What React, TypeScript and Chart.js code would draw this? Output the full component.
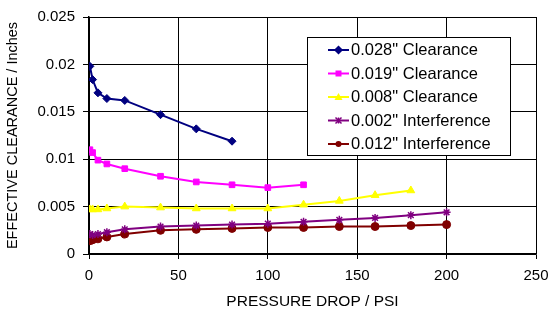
import React, { useEffect, useRef } from "react";
import { Chart, registerables } from "chart.js";

Chart.register(...registerables);

const pressure = [0.5, 2, 5, 10, 20, 40, 60, 80, 100, 120, 140, 160, 180, 200];

const clearance028 = [0.0198, 0.0184, 0.017, 0.0164, 0.0162, 0.0147, 0.0132, 0.0119];
const clearance019 = [0.011, 0.0107, 0.0099, 0.0095, 0.009, 0.0082, 0.0076, 0.0073, 0.007, 0.0073];
const clearance008 = [0.0047, 0.0047, 0.0047, 0.0048, 0.005, 0.0049, 0.0048, 0.0048, 0.0048, 0.0052, 0.0056, 0.0062, 0.0067];
const interference002 = [0.0021, 0.002, 0.0021, 0.0023, 0.0026, 0.0029, 0.003, 0.0031, 0.0032, 0.0034, 0.0036, 0.0038, 0.0041, 0.0044];
const interference012 = [0.0014, 0.0015, 0.0016, 0.0018, 0.0021, 0.0025, 0.0026, 0.0027, 0.0028, 0.0028, 0.0029, 0.0029, 0.003, 0.0031];

const seriesLabels = [
  '0.028" Clearance',
  '0.019" Clearance',
  '0.008" Clearance',
  '0.002" Interference',
  '0.012" Interference',
];
const seriesValues = [clearance028, clearance019, clearance008, interference002, interference012];
const seriesColors = ["#000080", "#FF00FF", "#FFFF00", "#800080", "#800000"];
const seriesMarkers = ["rectRot", "rect", "triangle", "star", "circle"];
const markerSizes = [4, 4, 4.5, 4, 4];

const xTicks = [0, 50, 100, 150, 200, 250];
const yTicks = [0, 0.005, 0.01, 0.015, 0.02, 0.025];

const FONT = "'Liberation Sans', Arial, sans-serif";

function drawMarker(ctx: CanvasRenderingContext2D, style: string, x: number, y: number, r: number) {
  ctx.beginPath();
  if (style === "rectRot") {
    ctx.moveTo(x, y - r - 0.5);
    ctx.lineTo(x + r + 0.5, y);
    ctx.lineTo(x, y + r + 0.5);
    ctx.lineTo(x - r - 0.5, y);
    ctx.closePath();
    ctx.fill();
    ctx.stroke();
  } else if (style === "rect") {
    ctx.rect(x - r, y - r, 2 * r, 2 * r);
    ctx.fill();
  } else if (style === "triangle") {
    ctx.moveTo(x, y - r - 1);
    ctx.lineTo(x + r + 1, y + r);
    ctx.lineTo(x - r - 1, y + r);
    ctx.closePath();
    ctx.fill();
  } else if (style === "star") {
    ctx.moveTo(x - r, y - r);
    ctx.lineTo(x + r, y + r);
    ctx.moveTo(x + r, y - r);
    ctx.lineTo(x - r, y + r);
    ctx.moveTo(x, y - r);
    ctx.lineTo(x, y + r);
    ctx.stroke();
  } else {
    ctx.arc(x, y, r, 0, Math.PI * 2);
    ctx.fill();
  }
}

const legendPlugin = {
  id: "boxLegend",
  afterDraw(chart: any) {
    const ctx = chart.ctx;
    const left = 307.5, top = 37.5, w = 203, h = 118;
    ctx.save();
    ctx.fillStyle = "#ffffff";
    ctx.fillRect(left, top, w, h);
    ctx.strokeStyle = "#000000";
    ctx.lineWidth = 1;
    ctx.strokeRect(left, top, w, h);
    ctx.font = `16.5px ${FONT}`;
    ctx.textBaseline = "middle";
    ctx.textAlign = "left";
    chart.data.datasets.forEach((ds: any, i: number) => {
      const y = 50 + i * 23.5;
      ctx.strokeStyle = ds.borderColor;
      ctx.lineWidth = 2;
      ctx.beginPath();
      ctx.moveTo(328, y);
      ctx.lineTo(349, y);
      ctx.stroke();
      ctx.fillStyle = ds.backgroundColor;
      ctx.strokeStyle = ds.borderColor;
      ctx.lineWidth = 1.5;
      drawMarker(ctx, ds.pointStyle, 338.5, y, 3);
      ctx.fillStyle = "#000000";
      ctx.fillText(ds.label, 351, y + 0.5);
    });
    ctx.restore();
  },
};

export default function App() {
  const canvasRef = useRef<HTMLCanvasElement | null>(null);

  useEffect(() => {
    document.body.style.margin = "0";
    const canvas = canvasRef.current;
    if (!canvas) return;
    const datasets = seriesValues.map((vals, i) => ({
      label: seriesLabels[i],
      data: vals.map((v, j) => ({ x: pressure[j], y: v })),
      borderColor: seriesColors[i],
      backgroundColor: seriesColors[i],
      borderWidth: 2,
      pointStyle: seriesMarkers[i],
      pointRadius: markerSizes[i],
      pointBorderWidth: i === 3 ? 1.5 : 1,
      pointBackgroundColor: seriesColors[i],
      pointBorderColor: seriesColors[i],
      showLine: true,
      fill: false,
      tension: 0,
    }));
    const chart = new Chart(canvas, {
      type: "scatter",
      data: { datasets },
      options: {
        animation: false,
        responsive: false,
        maintainAspectRatio: false,
        layout: { padding: { top: 17, right: 14, left: 0, bottom: 0 } },
        plugins: {
          legend: { display: false },
          tooltip: { enabled: false },
        },
        scales: {
          x: {
            type: "linear",
            min: 0,
            max: 250,
            afterBuildTicks: (scale: any) => {
              scale.ticks = xTicks.map((v) => ({ value: v }));
            },
            afterFit: (scale: any) => {
              scale.height = 62;
              scale.paddingLeft = 0;
              scale.paddingRight = 0;
            },
            ticks: {
              color: "#000",
              font: { family: FONT, size: 15 },
              padding: 8,
              maxRotation: 0,
              callback: (v: any) => String(v),
            },
            grid: { color: "#000", lineWidth: 1, tickLength: 5, drawTicks: true },
            border: { color: "#000", width: 1.5 },
            title: {
              display: true,
              text: "PRESSURE DROP / PSI",
              color: "#000",
              font: { family: FONT, size: 15.5 },
              padding: { top: 0, bottom: 5 },
            },
          },
          y: {
            type: "linear",
            min: 0,
            max: 0.025,
            afterBuildTicks: (scale: any) => {
              scale.ticks = yTicks.map((v) => ({ value: v }));
            },
            afterFit: (scale: any) => {
              scale.width = 89;
              scale.paddingTop = 0;
              scale.paddingBottom = 0;
            },
            ticks: {
              color: "#000",
              font: { family: FONT, size: 15 },
              padding: 8,
              callback: (v: any) => String(Number(Number(v).toFixed(3))),
            },
            grid: { color: "#000", lineWidth: 1, tickLength: 6, drawTicks: true },
            border: { color: "#000", width: 1.5 },
            title: {
              display: true,
              text: "EFFECTIVE CLEARANCE / Inches",
              color: "#000",
              font: { family: FONT, size: 14.5 },
              padding: { top: 4, bottom: 0 },
            },
          },
        },
      },
      plugins: [legendPlugin],
    } as any);
    return () => chart.destroy();
  }, []);

  return (
    <div style={{ width: 550, height: 316 }}>
      <canvas ref={canvasRef} width={550} height={316} style={{ display: "block" }} />
    </div>
  );
}
